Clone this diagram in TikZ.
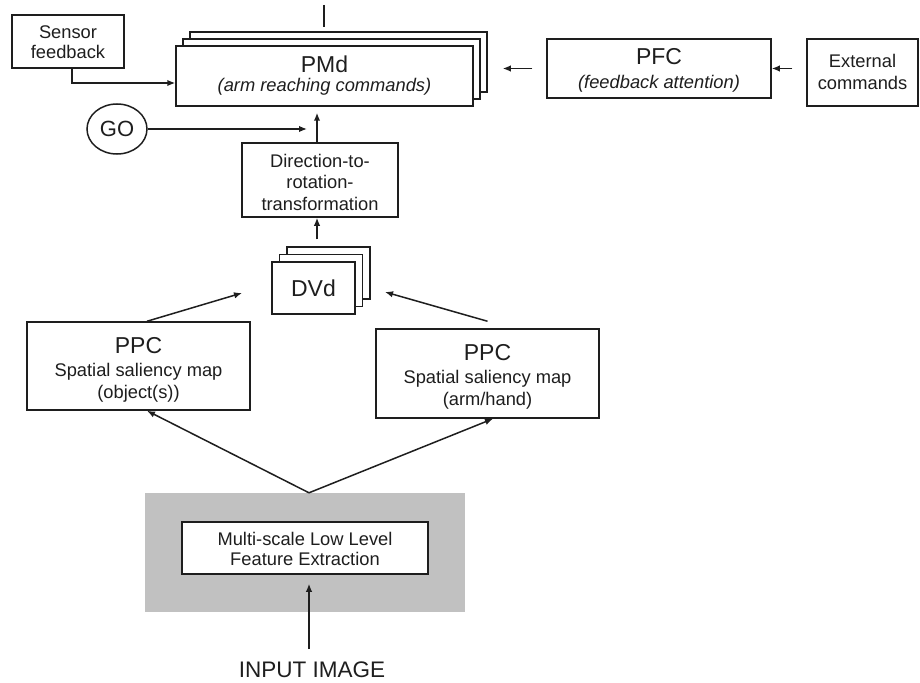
\documentclass[tikz,border=0pt]{standalone}
\usepackage{fontspec}
\setmainfont{Liberation Sans}
\usetikzlibrary{arrows.meta,shapes.geometric}
\definecolor{ink}{RGB}{30,30,30}
\definecolor{panel}{RGB}{193,193,193}

\begin{document}
\begin{tikzpicture}[x=1pt,y=-1pt,
  box/.style={draw=ink, line width=1.5pt, fill=white, inner sep=0pt},
  txt/.style={anchor=base, inner sep=0pt, text=ink, font=\fontsize{18.3}{21}\selectfont},
  head/.style={anchor=base, inner sep=0pt, text=ink, font=\fontsize{23}{26}\selectfont},
  wire/.style={draw=ink, line width=1.5pt},
  link/.style={wire, -{Latex[length=8pt,width=6.5pt]}},
]
\useasboundingbox (0,0) rectangle (920,682);

% ---- top row -------------------------------------------------------
\node[box, minimum width=112pt, minimum height=53pt] (sensor) at (68,41.5) {};
\node[txt] (sensorA) at (68,39) {Sensor};
\node[txt] (sensorB) at (68,59) {feedback};

\node[box, minimum width=297pt, minimum height=60pt] (pmdC) at (338.5,62) {};
\node[box, minimum width=297pt, minimum height=60pt] (pmdB) at (331.5,69) {};
\node[box, minimum width=297pt, minimum height=60pt] (pmd)  at (324.5,76) {};
\node[head] (pmdA) at (324.5,72.5) {PMd};
\node[txt]  (pmdS) at (324.5,92) {\itshape (arm reaching commands)};

\node[box, minimum width=224pt, minimum height=59pt] (pfc) at (659,68.5) {};
\node[head] (pfcA) at (659,65) {PFC};
\node[txt]  (pfcS) at (659,88.5) {\itshape (feedback attention)};

\node[box, minimum width=111pt, minimum height=67pt] (ext) at (862.5,72.5) {};
\node[txt] (extA) at (862.5,68) {External};
\node[txt] (extB) at (862.5,90) {commands};

\coordinate (topA) at (324,5);
\coordinate (topB) at (324,27);

% ---- middle column -------------------------------------------------
\node[draw=ink, line width=1.5pt, ellipse, inner sep=0pt,
      minimum width=60pt, minimum height=50pt, text=ink,
      font=\fontsize{22}{24}\selectfont] (go) at (117,129) {GO};
\coordinate (goend) at (307,129);

\node[box, minimum width=156pt, minimum height=74pt] (dir) at (320,180) {};
\node[txt] (dirA) at (320,167) {Direction-to-};
\node[txt] (dirB) at (320,188) {rotation-};
\node[txt] (dirC) at (320,210) {transformation};

\node[box, minimum width=83pt, minimum height=52pt] (dvdC) at (328.5,273) {};
\node[box, minimum width=83pt, minimum height=52pt] (dvdB) at (321,280.5) {};
\node[box, minimum width=83pt, minimum height=52pt, text=ink,
      font=\fontsize{23}{26}\selectfont] (dvd) at (313.5,288) {DVd};
\coordinate (dvdinL) at (242,293);
\coordinate (dvdinR) at (385,292);

% ---- saliency maps -------------------------------------------------
\node[box, minimum width=223pt, minimum height=88pt] (ppcL) at (138.5,366) {};
\node[head] (ppcLA) at (138.5,353) {PPC};
\node[txt]  (ppcLB) at (138.5,376) {Spatial saliency map};
\node[txt]  (ppcLC) at (138.5,398) {(object(s))};

\node[box, minimum width=223pt, minimum height=89pt] (ppcR) at (487.5,373.5) {};
\node[head] (ppcRA) at (487.5,360) {PPC};
\node[txt]  (ppcRB) at (487.5,383) {Spatial saliency map};
\node[txt]  (ppcRC) at (487.5,405) {(arm/hand)};

% ---- low level stage -----------------------------------------------
\node[fill=panel, inner sep=0pt, minimum width=320pt, minimum height=119pt] (panelbox) at (305,552.5) {};
\node[box, minimum width=246pt, minimum height=52pt] (feat) at (305,548) {};
\node[txt] (featA) at (305,545) {Multi-scale Low Level};
\node[txt] (featB) at (305,565) {Feature Extraction};

\node[head, font=\fontsize{22.5}{25}\selectfont] (input) at (312,677) {INPUT IMAGE};

% ---- connectors ----------------------------------------------------
\draw[wire] (topA) -- (topB);
\draw[link] ([xshift=4pt]sensor.south) |- ([yshift=-7pt]pmd.west);
\draw[link, shorten <=14pt, shorten >=15pt] (pfc.west) -- (pfc.west -| pmdC.east);
\draw[link, shorten <=14pt] (ext.west |- pfc.west) -- (pfc.east);
\draw[link] (go.east) -- (goend);
\draw[link, shorten >=6pt] ([xshift=-3pt]dir.north) -- ([xshift=-3pt]dir.north |- pmd.south);
\draw[link, shorten <=7pt] ([xshift=-3pt]dir.south |- dvdC.north) -- ([xshift=-3pt]dir.south);
\draw[link] ([xshift=8.5pt]ppcL.north) -- (dvdinL);
\draw[link] ([yshift=7pt]ppcR.north) -- (dvdinR);
\draw[link] ([xshift=4pt]panelbox.north) -- ([xshift=8.5pt]ppcL.south);
\draw[link] ([xshift=4pt]panelbox.north) -- ([xshift=5.5pt]ppcR.south);
\draw[link, shorten <=12pt, shorten >=9pt] ([xshift=-3pt]input.north) -- ([xshift=-3pt]input.north |- feat.south);
\end{tikzpicture}
\end{document}
